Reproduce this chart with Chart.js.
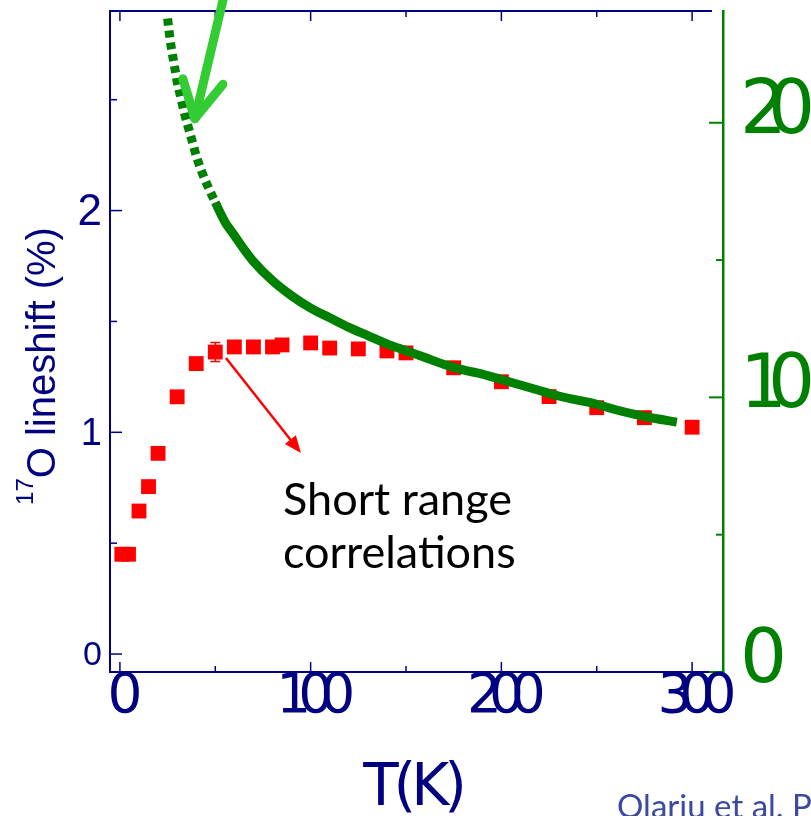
<!DOCTYPE html>
<html>
<head>
<meta charset="utf-8">
<script src="https://cdn.jsdelivr.net/npm/chart.js@4.4.0/dist/chart.umd.min.js"></script>
<style>
  html, body { margin: 0; padding: 0; background: #fff; }
  canvas { display: block; }
</style>
</head>
<body>
<canvas id="lineshiftChart" width="811" height="816"></canvas>
<script>
// 17O lineshift (%) vs T, red squares on the left axis
const shiftTemps = [1, 4.5, 10, 15, 20, 30, 40, 50, 60, 70, 80, 85, 100, 110, 125, 140, 150, 175, 200, 225, 250, 275, 300];
const shiftValues = [0.45, 0.45, 0.645, 0.755, 0.905, 1.16, 1.31, 1.362, 1.385, 1.385, 1.385, 1.394, 1.403, 1.38, 1.376, 1.367, 1.358, 1.291, 1.228, 1.161, 1.111, 1.066, 1.023];
const shiftErrors = [0, 0, 0, 0, 0, 0, 0, 0.043, 0, 0, 0, 0, 0, 0, 0, 0, 0, 0, 0, 0, 0, 0, 0];

// susceptibility curve, green, on the right axis
const suscTemps = [25, 26, 27, 28, 29, 30, 32, 34, 36, 38, 40, 43, 46, 50, 55, 60, 65, 70, 80, 90, 100, 110, 120, 130, 140, 150, 160, 170, 180, 190, 200, 210, 220, 230, 240, 250, 260, 270, 280, 292];
const suscValues = [23.8, 23.2, 22.7, 22.3, 21.9, 21.5, 20.9, 20.3, 19.8, 19.3, 18.8, 18.2, 17.7, 17.1, 16.4, 15.9, 15.4, 14.95, 14.25, 13.7, 13.25, 12.9, 12.55, 12.25, 11.95, 11.7, 11.45, 11.2, 11.0, 10.85, 10.65, 10.45, 10.25, 10.05, 9.9, 9.75, 9.55, 9.38, 9.24, 9.1];

// tick labels
const xTickValues = [0, 100, 200, 300];
const xMinorValues = [50, 150, 250];
const leftTickValues = [0, 1, 2];
const leftMinorValues = [0.5, 1.5, 2.5];
const rightTickValues = [0, 10, 20];
const rightMinorValues = [5, 15];

const navy = "#000080";
const green = "#008000";
const handFont = '"DejaVu Sans", sans-serif';

// draws text char by char so digits can overlap like the original
function drawSpaced(ctx, text, x, y, spacing, align) {
  const chars = [...text];
  const widths = chars.map((ch) => ctx.measureText(ch).width);
  const total = widths.reduce((a, b) => a + b, 0) + spacing * (chars.length - 1);
  let cx = x;
  if (align === "center") cx = x - total / 2;
  if (align === "right") cx = x - total;
  ctx.textAlign = "left";
  chars.forEach((ch, i) => {
    ctx.fillText(ch, cx, y);
    cx += widths[i] + spacing;
  });
}

function line(ctx, x1, y1, x2, y2) {
  ctx.beginPath();
  ctx.moveTo(x1, y1);
  ctx.lineTo(x2, y2);
  ctx.stroke();
}

const decorations = {
  id: "decorations",
  afterDatasetsDraw(chart) {
    const { ctx, scales: { x, y } } = chart;
    // error bars
    ctx.save();
    ctx.strokeStyle = "#ff0000";
    ctx.lineWidth = 1.5;
    shiftTemps.forEach((t, i) => {
      const e = shiftErrors[i];
      if (!e) return;
      const px = x.getPixelForValue(t);
      const top = y.getPixelForValue(shiftValues[i] + e);
      const bot = y.getPixelForValue(shiftValues[i] - e);
      line(ctx, px, top, px, bot);
      line(ctx, px - 5, top, px + 5, top);
      line(ctx, px - 5, bot, px + 5, bot);
    });
    ctx.restore();
  },
  afterDraw(chart) {
    const { ctx, chartArea: a, scales: { x, y, y2 } } = chart;
    ctx.save();

    // top frame line
    ctx.strokeStyle = navy;
    ctx.lineWidth = 2;
    line(ctx, a.left, a.top, x.getPixelForValue(310.4), a.top);

    // x ticks (inward, bottom and top)
    ctx.lineWidth = 1.5;
    xTickValues.forEach((v) => {
      const px = x.getPixelForValue(v);
      line(ctx, px, a.bottom, px, a.bottom - 10);
      line(ctx, px, a.top, px, a.top + 10);
    });
    xMinorValues.forEach((v) => {
      const px = x.getPixelForValue(v);
      line(ctx, px, a.bottom, px, a.bottom - 6);
      line(ctx, px, a.top, px, a.top + 6);
    });

    // left ticks
    leftTickValues.forEach((v) => {
      const py = y.getPixelForValue(v);
      line(ctx, a.left, py, a.left + 12, py);
    });
    leftMinorValues.forEach((v) => {
      const py = y.getPixelForValue(v);
      line(ctx, a.left, py, a.left + 7, py);
    });

    // right ticks
    ctx.strokeStyle = green;
    ctx.lineWidth = 2;
    rightTickValues.forEach((v) => {
      const py = y2.getPixelForValue(v);
      line(ctx, a.right, py, a.right - 14, py);
    });
    rightMinorValues.forEach((v) => {
      const py = y2.getPixelForValue(v);
      line(ctx, a.right, py, a.right - 7, py);
    });

    // left tick labels
    const leftSizes = [34, 38, 44];
    ctx.fillStyle = navy;
    ctx.textBaseline = "alphabetic";
    leftTickValues.forEach((v, i) => {
      const s = leftSizes[i];
      ctx.font = `${s}px "Liberation Sans", Arial, sans-serif`;
      ctx.textAlign = "right";
      ctx.fillText(String(v), a.left - 8, y.getPixelForValue(v) + s * 0.358 - 1);
    });

    // x tick labels
    ctx.font = `55px ${handFont}`;
    xTickValues.forEach((v) => {
      drawSpaced(ctx, String(v), x.getPixelForValue(v) + 5, a.bottom + 40, -13, "center");
    });

    // x title
    ctx.font = `58px ${handFont}`;
    drawSpaced(ctx, "T(K)", 415, 805, -5, "center");

    // right tick labels
    ctx.fillStyle = green;
    ctx.font = `74px ${handFont}`;
    rightTickValues.forEach((v) => {
      drawSpaced(ctx, String(v), a.right + 17, y2.getPixelForValue(v) + 10, -19, "left");
    });

    // left axis title with superscript
    ctx.fillStyle = navy;
    ctx.translate(55, 366);
    ctx.rotate(-Math.PI / 2);
    ctx.textAlign = "left";
    ctx.font = '24px "Liberation Sans", Arial, sans-serif';
    const supW = ctx.measureText("17").width;
    ctx.font = '40px "Liberation Sans", Arial, sans-serif';
    const mainW = ctx.measureText("O lineshift (%)").width;
    const start = -(supW + mainW) / 2;
    ctx.font = '24px "Liberation Sans", Arial, sans-serif';
    ctx.fillText("17", start, -22);
    ctx.font = '40px "Liberation Sans", Arial, sans-serif';
    ctx.fillText("O lineshift (%)", start + supW, 0);
    ctx.setTransform(1, 0, 0, 1, 0, 0);

    // red arrow to the annotation
    const ax1 = x.getPixelForValue(55.6), ay1 = y.getPixelForValue(1.335);
    const ax2 = x.getPixelForValue(94.9), ay2 = y.getPixelForValue(0.907);
    const ang = Math.atan2(ay2 - ay1, ax2 - ax1);
    ctx.strokeStyle = "#ff0000";
    ctx.fillStyle = "#ff0000";
    ctx.lineWidth = 2.5;
    line(ctx, ax1, ay1, ax2 - 12 * Math.cos(ang), ay2 - 12 * Math.sin(ang));
    ctx.beginPath();
    ctx.moveTo(ax2, ay2);
    ctx.lineTo(ax2 - 17 * Math.cos(ang) + 7 * Math.sin(ang), ay2 - 17 * Math.sin(ang) - 7 * Math.cos(ang));
    ctx.lineTo(ax2 - 17 * Math.cos(ang) - 7 * Math.sin(ang), ay2 - 17 * Math.sin(ang) + 7 * Math.cos(ang));
    ctx.closePath();
    ctx.fill();

    // annotation text
    ctx.fillStyle = "#000";
    ctx.font = '45px Lato, "Open Sans", sans-serif';
    ctx.textAlign = "left";
    ctx.fillText("Short range", x.getPixelForValue(85.5), y.getPixelForValue(0.627));
    ctx.fillText("correlations", x.getPixelForValue(85.5), y.getPixelForValue(0.388));

    // light green arrow pointing at the curve
    ctx.strokeStyle = "#33cc33";
    ctx.lineWidth = 9;
    ctx.lineCap = "round";
    ctx.lineJoin = "round";
    const tipX = x.getPixelForValue(39.3), tipY = y2.getPixelForValue(20.15);
    line(ctx, x.getPixelForValue(54.5), y2.getPixelForValue(24.6), tipX, tipY);
    ctx.beginPath();
    ctx.moveTo(x.getPixelForValue(33), y2.getPixelForValue(21.6));
    ctx.lineTo(tipX, tipY);
    ctx.lineTo(x.getPixelForValue(54), y2.getPixelForValue(21.4));
    ctx.stroke();

    // citation (cut off at the edge)
    ctx.fillStyle = "#3b4aa0";
    ctx.font = '33px Lato, "Open Sans", sans-serif';
    ctx.fillText("Olariu et al. PRL", 617, 818);

    ctx.restore();
  },
};

const ctx = document.getElementById("lineshiftChart").getContext("2d");

const lineshiftChart = new Chart(ctx, {
  type: "scatter",
  data: {
    datasets: [
      {
        label: "susceptibility",
        data: suscTemps.map((t, i) => ({ x: t, y: suscValues[i] })),
        yAxisID: "y2",
        showLine: true,
        borderColor: green,
        backgroundColor: green,
        borderWidth: 9,
        pointRadius: 0,
        cubicInterpolationMode: "monotone",
        order: 0,
        segment: {
          borderDash: (c) => (suscTemps[c.p0DataIndex] < 48 ? [7, 5] : undefined),
        },
      },
      {
        label: "17O lineshift",
        data: shiftTemps.map((t, i) => ({ x: t, y: shiftValues[i] })),
        yAxisID: "y",
        pointStyle: "rect",
        pointRadius: 10.5,
        pointHoverRadius: 10.5,
        backgroundColor: "#ff0000",
        borderWidth: 0,
        order: 1,
      },
    ],
  },
  options: {
    responsive: false,
    animation: false,
    layout: { padding: { left: 110, right: 88, top: 11, bottom: 144 } },
    plugins: {
      legend: { display: false },
      tooltip: { enabled: false },
    },
    scales: {
      x: {
        type: "linear",
        min: -5.2,
        max: 316.2,
        ticks: { display: false },
        grid: { display: true, drawOnChartArea: false, drawTicks: false },
        border: { color: navy, width: 2 },
        afterFit: (s) => { s.height = 0; },
      },
      y: {
        position: "left",
        min: -0.081,
        max: 2.9,
        ticks: { display: false },
        grid: { display: true, drawOnChartArea: false, drawTicks: false },
        border: { color: navy, width: 2 },
        afterFit: (s) => { s.width = 0; },
      },
      y2: {
        position: "right",
        min: 0,
        max: 24.07,
        ticks: { display: false },
        grid: { display: true, drawOnChartArea: false, drawTicks: false },
        border: { color: green, width: 2.5 },
        afterFit: (s) => { s.width = 0; },
      },
    },
  },
  plugins: [decorations],
});
</script>
</body>
</html>
